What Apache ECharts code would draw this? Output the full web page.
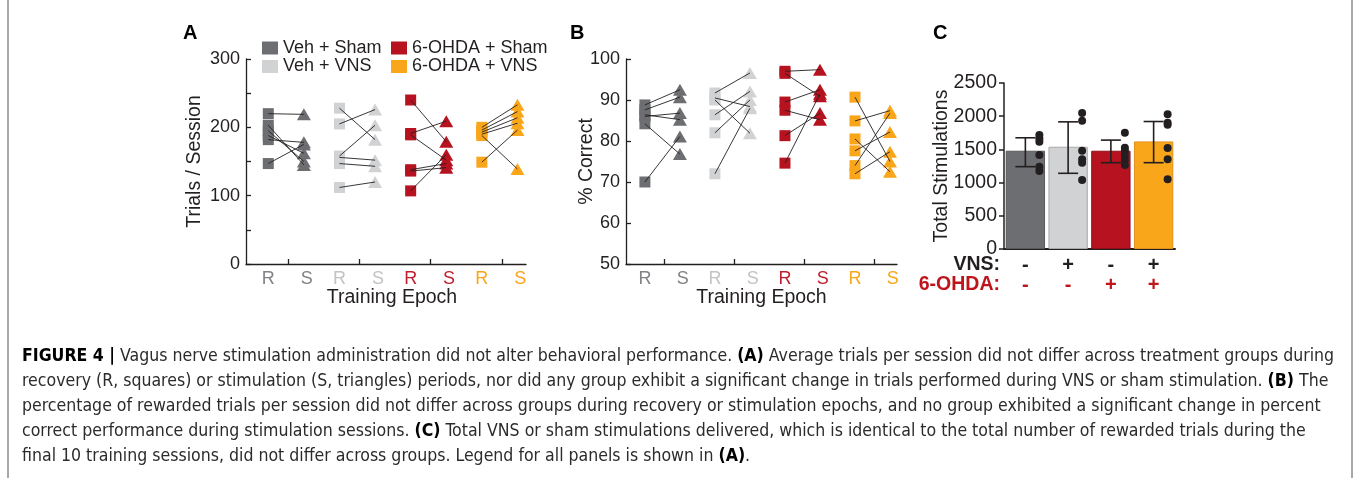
<!DOCTYPE html>
<html><head><meta charset="utf-8">
<script src="https://cdn.jsdelivr.net/npm/echarts@6/dist/echarts.min.js"></script>
<style>html,body{margin:0;padding:0;background:#fff}#c{width:1358px;height:478px}</style>
</head><body><div id="c"></div>
<script>
// ---------------- DATA ----------------
const groupNames = ['Veh + Sham', 'Veh + VNS', '6-OHDA + Sham', '6-OHDA + VNS'];
const epochNames = ['R', 'S'];
// Panel A: trials / session (one row per group, one value per subject)
const trialsRecovery = [
  [220, 203, 195, 188, 182, 147],
  [228, 205, 158, 156, 147, 112],
  [240, 191, 189, 138, 136, 107],
  [200, 196, 193, 190, 188, 149]
];
const trialsStim = [
  [219, 145, 150, 162, 178, 175],
  [182, 226, 203, 152, 143, 120],
  [179, 209, 152, 147, 141, 160],
  [233, 223, 214, 206, 139, 196]
];
// Panel B: % correct
const correctRecovery = [
  [88.8, 87.6, 86.4, 86.0, 84.2, 70.0],
  [91.7, 90.5, 90.0, 86.4, 82.0, 72.0],
  [97.0, 96.5, 89.5, 87.5, 81.3, 74.6],
  [90.7, 84.9, 80.5, 77.6, 74.0, 72.0]
];
const correctStim = [
  [92.5, 90.7, 85.2, 86.8, 76.8, 81.1],
  [96.6, 88.4, 81.9, 92.1, 90.0, 88.0],
  [97.4, 90.9, 92.5, 85.2, 86.8, 91.5],
  [75.0, 87.4, 72.5, 82.2, 86.8, 77.4]
];
// Panel C: total stimulations
const vnsSigns = ['-', '+', '-', '+'];
const ohdaSigns = ['-', '-', '+', '+'];
const stimMean = [1480, 1540, 1480, 1620];
const stimLow = [1240, 1140, 1300, 1300];
const stimHigh = [1675, 1915, 1640, 1920];
const stimDots = [
  [1715, 1665, 1615, 1415, 1240, 1175],
  [2050, 1930, 1480, 1350, 1300, 1040],
  [1750, 1525, 1480, 1410, 1340, 1265],
  [2030, 1900, 1870, 1520, 1350, 1050]
];
const trialsTicks = [0, 100, 200, 300];
const captionLines = [
  '{b|FIGURE 4 |} Vagus nerve stimulation administration did not alter behavioral performance. {b|(A)} Average trials per session did not differ across treatment groups during',
  'recovery (R, squares) or stimulation (S, triangles) periods, nor did any group exhibit a significant change in trials performed during VNS or sham stimulation. {b|(B)} The',
  'percentage of rewarded trials per session did not differ across groups during recovery or stimulation epochs, and no group exhibited a significant change in percent',
  'correct performance during stimulation sessions. {b|(C)} Total VNS or sham stimulations delivered, which is identical to the total number of rewarded trials during the',
  'final 10 training sessions, did not differ across groups. Legend for all panels is shown in {b|(A)}.'
];

// ---------------- STYLE ----------------
const FONT = '"Liberation Sans", Arial, Helvetica, sans-serif';
const CAPFONT = '"Liberation Sans Narrow", "DejaVu Sans Condensed", "Liberation Sans", sans-serif';
const INK = '#231f20';
const groupColors = ['#6d6e71', '#d1d2d4', '#b7121f', '#f9a61b'];
const labelColors = ['#808285', '#c2c3c5', '#be1e2d', '#f9a61b'];
const barBorders = ['#58595b', '#a7a9ac', '#8e0e18', '#e0901a'];
const R_OFF = -0.28, S_OFF = 0.22;        // mark offsets from group centre
const R_LAB = -0.28, S_LAB = 0.26;        // label offsets

const labelPos = [];
[1, 2, 3, 4].forEach(g => { labelPos.push(g + R_LAB, g + S_LAB); });
const epochRich = {};
labelColors.forEach((c, i) => { epochRich['g' + i] = { color: c, fontSize: 18, fontFamily: FONT }; });

function epochX(gi, min, max, namePad) {
  return {
    gridIndex: gi, type: 'value', min: min, max: max,
    axisLine: { lineStyle: { color: INK, width: 1.3 } },
    axisTick: { inside: true, length: 5, customValues: [1, 2, 3, 4], lineStyle: { color: INK, width: 1.3 } },
    axisLabel: {
      customValues: labelPos, margin: 6,
      formatter: function (v) { const g = Math.round(v); return '{g' + (g - 1) + '|' + (v < g ? epochNames[0] : epochNames[1]) + '}'; },
      rich: epochRich
    },
    splitLine: { show: false },
    name: 'Training Epoch', nameLocation: 'middle', nameGap: 24, nameMoveOverlap: false,
    nameTextStyle: { fontSize: 19.5, color: INK, fontFamily: FONT, padding: namePad }
  };
}
function valueY(gi, min, max, interval, name, gap, labelFilter) {
  return {
    gridIndex: gi, type: 'value', min: min, max: max, interval: interval,
    axisLine: { show: true, lineStyle: { color: INK, width: 1.3 } },
    axisTick: { show: true, inside: true, length: 5, lineStyle: { color: INK, width: 1.3 } },
    axisLabel: { fontSize: 18, color: INK, fontFamily: FONT, margin: 6,
      formatter: function (v) { return labelFilter(v) ? String(v) : ''; } },
    splitLine: { show: false },
    name: name, nameLocation: 'middle', nameGap: gap, nameMoveOverlap: false,
    nameTextStyle: { fontSize: 19.5, color: INK, fontFamily: FONT }
  };
}

function epochSeries(ai, recov, stim) {
  const out = [];
  groupNames.forEach(function (name, g) {
    out.push({ type: 'scatter', name: name, xAxisIndex: ai, yAxisIndex: ai, symbol: 'rect', symbolSize: [11, 11],
      itemStyle: { color: groupColors[g], opacity: 1 }, data: recov[g].map(v => [g + 1 + R_OFF, v]), z: 2, silent: true });
    out.push({ type: 'scatter', name: name, xAxisIndex: ai, yAxisIndex: ai, symbol: 'triangle', symbolSize: [14, 12],
      itemStyle: { color: groupColors[g], opacity: 1 }, data: stim[g].map(v => [g + 1 + S_OFF, v]), z: 2, silent: true });
  });
  const segs = [];
  recov.forEach(function (arr, g) {
    arr.forEach(function (v, i) { segs.push({ coords: [[g + 1 + R_OFF, v], [g + 1 + S_OFF, stim[g][i]]] }); });
  });
  out.push({ type: 'lines', coordinateSystem: 'cartesian2d', xAxisIndex: ai, yAxisIndex: ai, data: segs,
    lineStyle: { color: INK, width: 0.9, opacity: 1 }, z: 5, silent: true });
  return out;
}

// caption font size fitted to the measured width of the first line
const ctx = document.createElement('canvas').getContext('2d');
ctx.font = '17px ' + CAPFONT;
const plain1 = captionLines[0].replace(/\{b\|([^}]*)\}/g, '$1');
let capSize = 17 * 1300 / ctx.measureText(plain1).width;
capSize = Math.max(13, Math.min(20, capSize));

const graphics = [
  { type: 'line', shape: { x1: 8, y1: 0, x2: 8, y2: 478 }, style: { stroke: '#555', lineWidth: 1 } },
  { type: 'line', shape: { x1: 1352, y1: 0, x2: 1352, y2: 478 }, style: { stroke: '#555', lineWidth: 1 } },
  { type: 'text', x: 183, y: 33, style: { text: 'A', font: 'bold 20px ' + FONT, fill: '#000', textVerticalAlign: 'middle' } },
  { type: 'text', x: 570, y: 33, style: { text: 'B', font: 'bold 20px ' + FONT, fill: '#000', textVerticalAlign: 'middle' } },
  { type: 'text', x: 933, y: 33, style: { text: 'C', font: 'bold 20px ' + FONT, fill: '#000', textVerticalAlign: 'middle' } },
  { type: 'text', x: 1000, y: 265, style: { text: 'VNS:', font: 'bold 19.5px ' + FONT, fill: INK, textAlign: 'right', textVerticalAlign: 'middle' } },
  { type: 'text', x: 1000, y: 285, style: { text: '6-OHDA:', font: 'bold 19.5px ' + FONT, fill: '#c0141c', textAlign: 'right', textVerticalAlign: 'middle' } }
];
captionLines.forEach(function (t, i) {
  graphics.push({ type: 'text', x: 22, y: 356 + i * 25, style: {
    text: t, fontSize: capSize, fontFamily: CAPFONT, fill: '#2b2b2b', textVerticalAlign: 'middle',
    rich: { b: { fontWeight: 'bold', fontSize: capSize, fontFamily: CAPFONT, fill: '#000' } } } });
});

const legendText = { fontSize: 18, color: INK, fontFamily: FONT };
const option = {
  animation: false,
  backgroundColor: '#fff',
  textStyle: { fontFamily: FONT },
  grid: [
    { left: 246, top: 59, width: 280, height: 205 },
    { left: 626, top: 59, width: 271, height: 205 },
    { left: 1004, top: 83, width: 171, height: 166 }
  ],
  legend: [
    { left: 257, top: 34, orient: 'vertical', itemGap: 0.5, itemWidth: 16, itemHeight: 13, icon: 'rect', selectedMode: false,
      data: [groupNames[0], groupNames[1]], textStyle: legendText },
    { left: 386, top: 34, orient: 'vertical', itemGap: 0.5, itemWidth: 16, itemHeight: 13, icon: 'rect', selectedMode: false,
      data: [groupNames[2], groupNames[3]], textStyle: legendText }
  ],
  xAxis: [
    epochX(0, 0.407, 4.34, [0, 0, 0, 12]),
    epochX(1, 0.45, 4.32, 0),
    { gridIndex: 2, type: 'category', data: vnsSigns.map((s, i) => s + ohdaSigns[i]),
      axisLine: { lineStyle: { color: INK, width: 2 } }, axisTick: { show: false },
      axisLabel: { interval: 0, margin: 6,
        formatter: function (v, i) { return '{k|' + vnsSigns[i] + '}\n{r|' + ohdaSigns[i] + '}'; },
        rich: { k: { color: INK, fontWeight: 'bold', fontSize: 20, lineHeight: 20, fontFamily: FONT },
                r: { color: '#c0141c', fontWeight: 'bold', fontSize: 20, lineHeight: 20, fontFamily: FONT } } } }
  ],
  yAxis: [
    valueY(0, 0, 300, 50, 'Trials / Session', 41, v => trialsTicks.indexOf(v) >= 0),
    valueY(1, 50, 100, 10, '% Correct', 29, v => true),
    { gridIndex: 2, type: 'value', min: 0, max: 2500, interval: 500,
      axisLine: { show: true, lineStyle: { color: INK, width: 1.5 } },
      axisTick: { show: true, inside: false, length: 5, lineStyle: { color: INK, width: 1.5 } },
      axisLabel: { fontSize: 19.5, color: INK, fontFamily: FONT, margin: 7, formatter: v => String(v) },
      splitLine: { show: false },
      name: 'Total Stimulations', nameLocation: 'middle', nameGap: 52, nameMoveOverlap: false,
      nameTextStyle: { fontSize: 19.5, color: INK, fontFamily: FONT } }
  ],
  graphic: graphics,
  series: [].concat(
    epochSeries(0, trialsRecovery, trialsStim),
    epochSeries(1, correctRecovery, correctStim),
    [
      { type: 'bar', xAxisIndex: 2, yAxisIndex: 2, barCategoryGap: '8%', silent: true,
        data: stimMean.map((v, i) => ({ value: v, itemStyle: { color: groupColors[i], borderColor: barBorders[i], borderWidth: 1 } })) },
      { type: 'custom', xAxisIndex: 2, yAxisIndex: 2, silent: true, z: 4,
        data: stimLow.map((l, i) => [i, l, stimHigh[i]]),
        renderItem: function (params, api) {
          const lo = api.coord([api.value(0), api.value(1)]);
          const hi = api.coord([api.value(0), api.value(2)]);
          const w = 10, st = { stroke: INK, lineWidth: 1.6 };
          return { type: 'group', children: [
            { type: 'line', shape: { x1: lo[0], y1: lo[1], x2: hi[0], y2: hi[1] }, style: st },
            { type: 'line', shape: { x1: lo[0] - w, y1: lo[1], x2: lo[0] + w, y2: lo[1] }, style: st },
            { type: 'line', shape: { x1: hi[0] - w, y1: hi[1], x2: hi[0] + w, y2: hi[1] }, style: st }
          ] };
        } }
    ],
    stimDots.map((arr, i) => ({ type: 'scatter', xAxisIndex: 2, yAxisIndex: 2, silent: true, z: 5,
      symbolSize: 8, symbolOffset: [14, 0], itemStyle: { color: INK, opacity: 1 },
      data: arr.map(v => [i, v]) }))
  )
};
const chart = echarts.init(document.getElementById('c'), null, { renderer: 'canvas' });
chart.setOption(option);
</script>
</body></html>
